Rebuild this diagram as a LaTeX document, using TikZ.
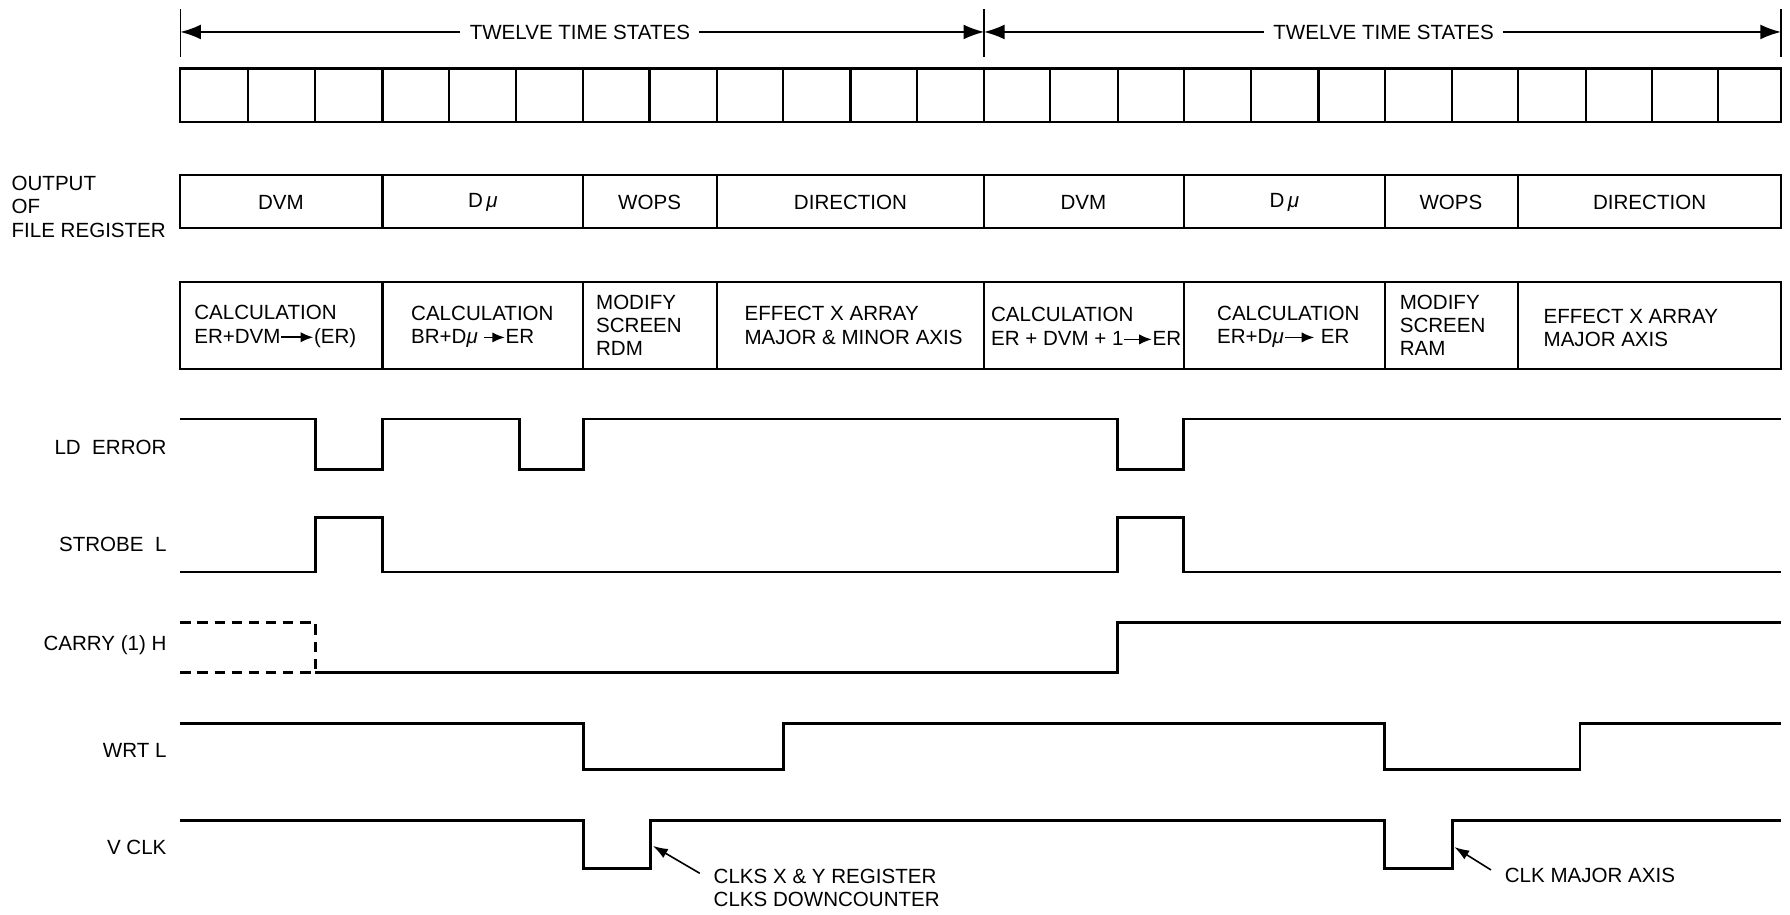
\documentclass[tikz,border=0pt]{standalone}
\usepackage{fontspec}
\setmainfont{Liberation Sans}
\usetikzlibrary{arrows.meta}
\newcommand{\myarr}[1][22pt]{\tikz[baseline=-0.55ex]\draw[line width=1.4pt,-{Latex[length=11pt,width=9pt]}] (0,0) -- (#1,0);}
\begin{document}
\begin{tikzpicture}[x=1pt,y=-1pt,
  lbl/.style={font=\fontsize{18}{20.5}\selectfont, inner sep=0pt},
  boxline/.style={line width=1.9pt},
  wave/.style={line width=2.5pt, line join=miter},
  dimline/.style={line width=1.3pt},
  dimarrow/.style={dimline,-{Latex[length=18pt,width=13pt]}},
  notearrow/.style={line width=1.4pt,-{Latex[length=13pt,width=9pt]}},
]
\useasboundingbox (0,0) rectangle (1568,801);

% ---- dimension line: twelve time states ----
\draw[dimline] (158,8) -- (158,50);
\draw[dimline] (862,8) -- (862,50);
\draw[dimline] (1560,8) -- (1560,50);
\coordinate (t0) at (158,28);
\coordinate (t1) at (862,28);
\coordinate (t2) at (1560,28);
\node[lbl] (ts1) at (508,28) {TWELVE TIME STATES};
\node[lbl] (ts2) at (1212,28) {TWELVE TIME STATES};
\draw[dimarrow] ([xshift=-8pt]ts1.west) -- (t0);
\draw[dimarrow] ([xshift=8pt]ts1.east) -- (t1);
\draw[dimarrow] ([xshift=-8pt]ts2.west) -- (t1);
\draw[dimarrow] ([xshift=8pt]ts2.east) -- (t2);

% ---- time state grid ----
\draw[boxline] (158,60) rectangle (1560,107);
\foreach \x in {217,276,335,393,452,511,569,628,686,745,803,862,920,979,1037,1096,1155,1213,1272,1330,1389,1447,1505}
  \draw[boxline] (\x,60) -- (\x,107);

% ---- output of file register ----
\node[lbl,anchor=west,align=left] (ofr) at (10,181) {OUTPUT\\OF\\FILE REGISTER};
\draw[boxline] (158,153) rectangle (1560,200);
\foreach \x in {335,511,628,862,1037,1213,1330}
  \draw[boxline] (\x,153) -- (\x,200);
\node[lbl] (r1) at (246,177) {DVM};
\node[lbl] (r2) at (423,177) {D\,\textit{μ}};
\node[lbl] (r3) at (569,177) {WOPS};
\node[lbl] (r4) at (745,177) {DIRECTION};
\node[lbl] (r5) at (949,177) {DVM};
\node[lbl] (r6) at (1125,177) {D\,\textit{μ}};
\node[lbl] (r7) at (1271,177) {WOPS};
\node[lbl] (r8) at (1445,177) {DIRECTION};

% ---- function row ----
\draw[boxline] (158,247) rectangle (1560,323);
\foreach \x in {335,511,628,862,1037,1213,1330}
  \draw[boxline] (\x,247) -- (\x,323);
\node[lbl,anchor=west,align=left] (f1) at (170,286) {CALCULATION\\ER+DVM\myarr[28pt](ER)};
\node[lbl,anchor=west,align=left] (f2) at (360,286) {CALCULATION\\BR+D\textit{μ} \myarr[18pt]ER};
\node[lbl,anchor=west,align=left] (f3) at (522,285) {MODIFY\\SCREEN\\RDM};
\node[lbl,anchor=west,align=left] (f4) at (652,285) {EFFECT X ARRAY\\MAJOR \& MINOR AXIS};
\node[lbl,anchor=west,align=left] (f5) at (868,286) {CALCULATION\\ER + DVM + 1\myarr[24pt]ER};
\node[lbl,anchor=west,align=left] (f6) at (1066,286) {CALCULATION\\ER+D\textit{μ}\myarr[26pt] ER};
\node[lbl,anchor=west,align=left] (f7) at (1226,285) {MODIFY\\SCREEN\\RAM};
\node[lbl,anchor=west,align=left] (f8) at (1352,287) {EFFECT X ARRAY\\MAJOR AXIS};

% ---- signal labels ----
\node[lbl,anchor=east] (s1) at (146,392) {LD\ \ ERROR};
\node[lbl,anchor=east] (s2) at (146,477) {STROBE\ \ L};
\node[lbl,anchor=east] (s3) at (146,565) {CARRY (1) H};
\node[lbl,anchor=east] (s4) at (146,657) {WRT L};
\node[lbl,anchor=east] (s5) at (146,742) {V CLK};

% ---- waveforms ----
\draw[wave] (158,367) -| (276,411) -| (335,367) -| (455,411) -| (511,367) -| (979,411) -| (1037,367) -- (1560,367);
\draw[wave] (158,501) -| (276,453) -| (335,501) -| (979,453) -| (1037,501) -- (1560,501);
\draw[wave,dashed,dash pattern=on 9pt off 6pt] (158,545) -| (276,589);
\draw[wave,dashed,dash pattern=on 9pt off 6pt] (158,589) -- (276,589);
\draw[wave] (276,589) -| (979,545) -- (1560,545);
\draw[wave] (158,634) -| (511,674) -| (686,634) -| (1213,674) -| (1384,634) -- (1560,634);
\draw[wave] (158,719) -| (511,761) -| (570,719) -| (1213,761) -| (1272,719) -- (1560,719);

% ---- annotations ----
\coordinate (e1) at (572,741);
\coordinate (e2) at (1274,742);
\node[lbl,anchor=west,align=left] (n1) at (625,778) {CLKS X \& Y REGISTER\\CLKS DOWNCOUNTER};
\node[lbl,anchor=west] (n2) at (1318,767) {CLK MAJOR AXIS};
\draw[notearrow] ([shift={(-12,-13)}]n1.west) -- (e1);
\draw[notearrow] ([shift={(-12,-5)}]n2.west) -- (e2);
\end{tikzpicture}
\end{document}
